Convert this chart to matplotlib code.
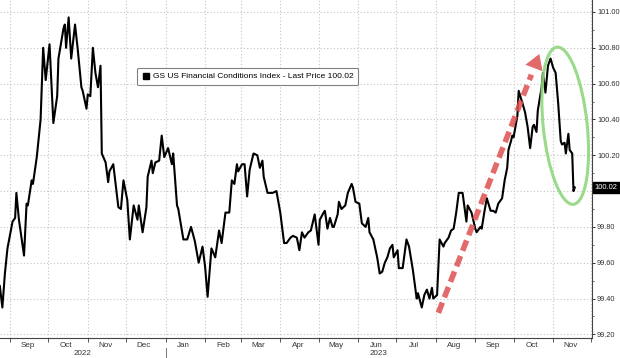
import matplotlib
matplotlib.use("Agg")
import matplotlib.pyplot as plt
import matplotlib.dates as mdates
import matplotlib.transforms as mtransforms
from matplotlib.patches import Ellipse
from matplotlib.lines import Line2D
from matplotlib.ticker import MultipleLocator, FuncFormatter
import pandas as pd

# GS US Financial Conditions Index
# days counted from 2022-09-01
days = [-8, -6, -4, -2, 2, 4, 5, 7, 11, 13, 14, 17, 18, 21, 24, 26, 28, 31, 34, 37,
        38, 42, 43, 44, 46, 48, 51, 53, 56, 57, 60, 61, 63, 65, 67, 69, 71, 72, 75, 77,
        78, 81, 82, 85, 87, 89, 92, 94, 97, 100, 101, 104, 107, 108, 111, 112, 114, 117, 119, 121,
        124, 127, 128, 131, 132, 136, 139, 142, 145, 148, 151, 153, 155, 158, 161, 164, 166, 169, 172, 174,
        176, 178, 179, 182, 184, 186, 188, 191, 194, 196, 198, 199, 202, 206, 209, 212, 215, 217, 220, 222,
        225, 227, 229, 231, 234, 236, 239, 242, 243, 246, 247, 249, 251, 253, 254, 257, 258, 260, 263, 265,
        268, 269, 271, 274, 276, 279, 281, 282, 285, 288, 290, 292, 294, 296, 298, 300, 301, 304, 305, 308,
        311, 313, 316, 319, 320, 323, 325, 327, 329, 331, 332, 335, 337, 340, 341, 344, 346, 348, 350, 352,
        355, 358, 359, 362, 365, 366, 369, 370, 372, 374, 377, 379, 381, 383, 386, 388, 390, 391, 393, 394,
        395, 398, 399, 402, 404, 406, 408, 410, 411, 413, 414, 417, 418, 420, 422, 424, 426, 428, 430, 432,
        433, 435, 436, 438, 439, 441, 442, 443]
values = [99.47, 99.35, 99.54, 99.68, 99.83, 99.85, 99.99, 99.84, 99.64, 99.93, 99.92, 100.06, 100.04, 100.19, 100.40, 100.80, 100.62, 100.82, 100.38, 100.53,
          100.74, 100.91, 100.93, 100.80, 100.97, 100.74, 100.93, 100.80, 100.58, 100.56, 100.46, 100.54, 100.53, 100.80, 100.66, 100.58, 100.70, 100.21, 100.16, 100.05,
          100.11, 100.15, 100.09, 99.91, 99.90, 100.06, 99.95, 99.73, 99.92, 99.84, 99.92, 99.77, 99.91, 100.08, 100.17, 100.10, 100.16, 100.17, 100.31, 100.19,
          100.24, 100.15, 100.21, 99.92, 99.90, 99.73, 99.73, 99.80, 99.72, 99.60, 99.69, 99.58, 99.41, 99.68, 99.63, 99.78, 99.71, 99.88, 99.88, 100.06,
          100.04, 100.15, 100.11, 100.15, 100.15, 99.97, 100.12, 100.21, 100.20, 100.13, 100.17, 100.08, 99.99, 99.99, 100.00, 99.88, 99.71, 99.71, 99.74, 99.75,
          99.74, 99.67, 99.77, 99.74, 99.77, 99.78, 99.87, 99.70, 99.84, 99.88, 99.89, 99.79, 99.85, 99.80, 99.80, 99.87, 99.94, 99.90, 99.92, 99.99,
          100.04, 100.02, 99.94, 99.93, 99.82, 99.80, 99.85, 99.77, 99.73, 99.63, 99.54, 99.55, 99.60, 99.63, 99.68, 99.70, 99.63, 99.67, 99.57, 99.57,
          99.73, 99.69, 99.56, 99.40, 99.43, 99.35, 99.42, 99.45, 99.40, 99.46, 99.40, 99.42, 99.73, 99.69, 99.71, 99.74, 99.78, 99.79, 99.88, 99.99,
          99.99, 99.83, 99.92, 99.88, 99.79, 99.77, 99.80, 99.79, 99.88, 99.96, 99.89, 99.89, 99.88, 99.93, 99.96, 100.06, 100.13, 100.23, 100.28, 100.31,
          100.30, 100.42, 100.56, 100.49, 100.44, 100.36, 100.24, 100.36, 100.37, 100.33, 100.45, 100.58, 100.66, 100.55, 100.70, 100.74, 100.69, 100.66, 100.49, 100.28,
          100.26, 100.27, 100.21, 100.32, 100.23, 100.21, 100.00, 100.02]

last_price = 100.02
series_name = "GS US Financial Conditions Index - Last Price 100.02"
years = ["2022", "2023"]

base = pd.Timestamp("2022-09-01")
dates = base + pd.to_timedelta(days, unit="D")

plt.rcParams["font.family"] = ["Liberation Sans", "DejaVu Sans"]

fig = plt.figure(figsize=(6.2, 3.58), dpi=100)
ax = fig.add_axes([0.0, 0.056, 0.955, 0.944])

ax.plot(dates, values, color="black", lw=1.5, zorder=3)

x_left = base + pd.Timedelta(days=-7.85)
x_right = base + pd.Timedelta(days=456.6)
ax.set_xlim(x_left, x_right)
ax.set_ylim(99.18, 101.067)

# grid
grid_kw = dict(color="#c4c4c4", lw=0.8, linestyle=(0, (1, 2)))
ax.xaxis.set_major_locator(mdates.MonthLocator())
ax.xaxis.set_major_formatter(plt.NullFormatter())
ax.xaxis.set_minor_locator(mdates.MonthLocator(bymonthday=15))
ax.xaxis.set_minor_formatter(mdates.DateFormatter("%b"))
ax.tick_params(axis="x", which="major", length=3, width=0.7, color="#555555", direction="out")
ax.tick_params(axis="x", which="minor", length=0, labelsize=5.8, colors="#333333", pad=3)
ax.grid(True, axis="x", which="major", **grid_kw)

ax.yaxis.tick_right()
ax.yaxis.set_major_locator(MultipleLocator(0.2))
ax.yaxis.set_minor_locator(MultipleLocator(0.1))
ax.yaxis.set_major_formatter(FuncFormatter(lambda v, p: "" if abs(v - 100) < 1e-6 else f"{v:.2f}"))
ax.tick_params(axis="y", which="major", length=2.5, width=0.7, labelsize=5.3, colors="#333333", pad=1)
ax.tick_params(axis="y", which="minor", length=1.5, width=0.6, color="#555555")
ax.grid(True, axis="y", which="major", **grid_kw)

for s in ["left", "top"]:
    ax.spines[s].set_visible(False)
for s in ["right", "bottom"]:
    ax.spines[s].set_color("#444444")
    ax.spines[s].set_linewidth(0.8)

# year labels under the months
jan1 = pd.Timestamp("2023-01-01")
trans_x = mtransforms.blended_transform_factory(ax.transData, ax.transAxes)
x0, x1 = mdates.date2num(x_left), mdates.date2num(x_right)
xj = mdates.date2num(jan1)
ax.text((x0 + xj) / 2, -0.045, years[0], transform=trans_x, ha="center", va="center",
        fontsize=5.8, color="#333333")
ax.text((xj + x1) / 2, -0.045, years[1], transform=trans_x, ha="center", va="center",
        fontsize=5.8, color="#333333")
ax.plot([xj, xj], [-0.03, -0.062], transform=trans_x, color="#777777", lw=0.7, clip_on=False)

# legend
handle = Line2D([], [], marker="s", color="black", linestyle="none", markersize=5)
leg = ax.legend([handle], [series_name], loc="upper left", bbox_to_anchor=(0.232, 0.80),
                fontsize=6.0, frameon=True, fancybox=True, borderpad=0.6,
                handlelength=0.9, handletextpad=0.35, borderaxespad=0)
leg.get_frame().set_edgecolor("#808080")
leg.get_frame().set_linewidth(0.8)
leg.get_frame().set_alpha(1)

# last price tag
ax.annotate(f"{last_price:.2f}", xy=(1.0, last_price), xycoords=("axes fraction", "data"),
            xytext=(2.0, 0), textcoords="offset points", ha="left", va="center",
            fontsize=5.4, color="white", annotation_clip=False, zorder=10,
            bbox=dict(boxstyle="square,pad=0.3", fc="black", ec="black"))

# red dashed arrow showing the rally
arrow_start = (base + pd.Timedelta(days=336), 99.32)
arrow_end = (base + pd.Timedelta(days=416), 100.78)
arrow_mid = (base + pd.Timedelta(days=409), 100.65)
red = "#df5050"
ax.plot([arrow_start[0], arrow_mid[0]], [arrow_start[1], arrow_mid[1]], color=red, lw=4,
        linestyle=(0, (2.0, 1.0)), alpha=0.85, solid_capstyle="butt", zorder=4)
ax.annotate("", xy=arrow_end, xytext=arrow_mid,
            arrowprops=dict(arrowstyle="-|>,head_length=0.9,head_width=0.55", color=red,
                            lw=0, alpha=0.85, mutation_scale=12), zorder=4)

# green ellipse around the recent drop
centre = (mdates.date2num(base + pd.Timedelta(days=435.5)), 100.365)
trans_e = fig.dpi_scale_trans + mtransforms.ScaledTranslation(centre[0], centre[1], ax.transData)
ell = Ellipse((0, 0), width=0.44, height=1.58, angle=6, transform=trans_e,
              fill=False, ec="#8fd67e", lw=2.2, alpha=0.9, zorder=5)
ax.add_patch(ell)

fig.savefig("out.png", dpi=100)
